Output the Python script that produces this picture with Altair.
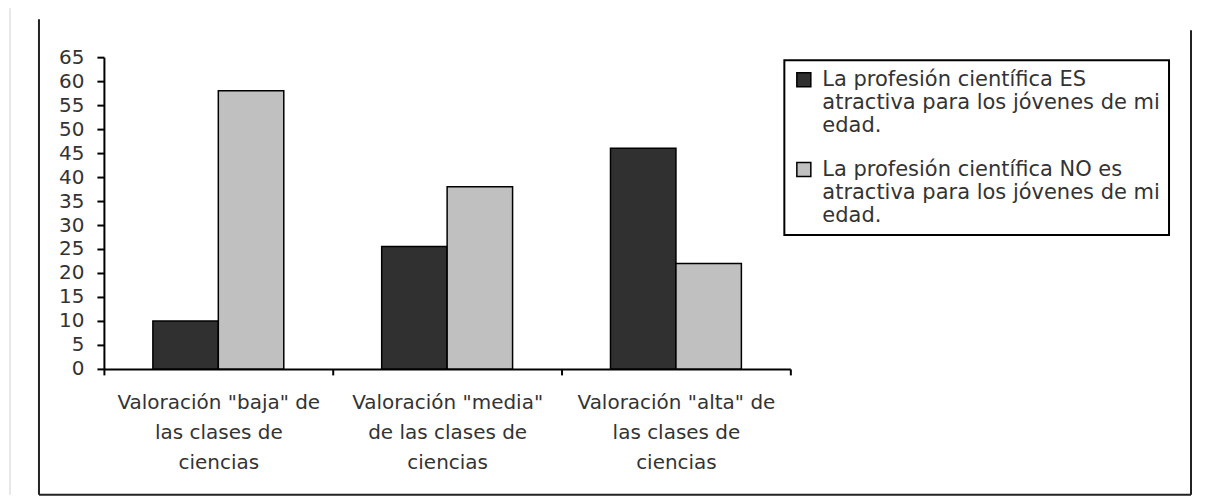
import altair as alt
import pandas as pd

# ---- data ----
categorias = [
    'Valoración "baja" de|las clases de|ciencias',
    'Valoración "media"|de las clases de|ciencias',
    'Valoración "alta" de|las clases de|ciencias',
]
series = [
    "La profesión científica ES|atractiva para los jóvenes de mi|edad.",
    "La profesión científica NO es|atractiva para los jóvenes de mi|edad.",
]
valores_es = [10, 25.5, 46]
valores_no = [58, 38, 22]
y_ticks = list(range(0, 66, 5))
colores = ["#303030", "#c0c0c0"]

rows = []
for c, a, b in zip(categorias, valores_es, valores_no):
    rows.append({"categoria": c, "serie": series[0], "valor": a})
    rows.append({"categoria": c, "serie": series[1], "valor": b})
df = pd.DataFrame(rows)

FONT = "DejaVu Sans"
TXT = "#333333"

bars = alt.Chart(df).mark_bar(stroke="black", strokeWidth=1.5).encode(
    x=alt.X(
        "categoria:N",
        sort=categorias,
        scale=alt.Scale(paddingInner=0, paddingOuter=0),
        axis=alt.Axis(
            title=None,
            labelExpr="split(datum.label, '|')",
            labelAngle=0,
            labelFont=FONT,
            labelFontSize=20,
            labelLineHeight=30,
            labelPadding=18,
            labelColor=TXT,
            labelLimit=400,
            tickBand="extent",
            tickSize=6,
            tickWidth=2,
            tickColor="black",
            domainColor="black",
            domainWidth=2,
        ),
    ),
    xOffset=alt.XOffset("serie:N", sort=series,
                        scale=alt.Scale(paddingInner=0, paddingOuter=0.748)),
    y=alt.Y(
        "valor:Q",
        scale=alt.Scale(domain=[0, 65], nice=False),
        axis=alt.Axis(
            title=None,
            values=y_ticks,
            grid=False,
            labelFont=FONT,
            labelFontSize=20,
            labelColor=TXT,
            labelPadding=13,
            tickSize=7,
            tickWidth=2,
            tickColor="black",
            domainColor="black",
            domainWidth=2,
        ),
    ),
    color=alt.Color(
        "serie:N",
        sort=series,
        scale=alt.Scale(domain=series, range=colores),
        legend=alt.Legend(
            title=None,
            orient="none",
            legendX=681,
            legendY=3,
            labelExpr="split(datum.label, '|')",
            labelFont=FONT,
            labelFontSize=21,
            labelColor=TXT,
            labelLimit=360,
            labelOffset=8,
            symbolType="square",
            symbolSize=196,
            symbolStrokeColor="black",
            symbolStrokeWidth=1.5,
            symbolOpacity=1,
            strokeColor="black",
            padding=9,
            rowPadding=22,
        ),
    ),
)

frame_data = alt.Data(values=[{"k": 1}])
left = alt.Chart(frame_data).mark_rule(color="#222222", strokeWidth=2).encode(
    x=alt.value(-65), y=alt.value(-38), y2=alt.value(438))
bottom = alt.Chart(frame_data).mark_rule(color="#222222", strokeWidth=2).encode(
    x=alt.value(-65), x2=alt.value(1088), y=alt.value(438))
right = alt.Chart(frame_data).mark_rule(color="#222222", strokeWidth=2).encode(
    x=alt.value(1088), y=alt.value(-27), y2=alt.value(438))
faint = alt.Chart(frame_data).mark_rule(color="#d0d0d0", strokeWidth=1).encode(
    x=alt.value(-94), y=alt.value(-49), y2=alt.value(438))

chart = alt.layer(faint, left, bottom, right, bars).properties(
    width=687,
    height=312,
    autosize=alt.AutoSizeParams(type="none"),
    padding={"left": 96, "top": 49, "right": 407, "bottom": 127},
).configure_view(stroke=None).configure_legend(strokeWidth=2)

chart.save("out.html", embed_options={"renderer": "svg", "actions": False})
